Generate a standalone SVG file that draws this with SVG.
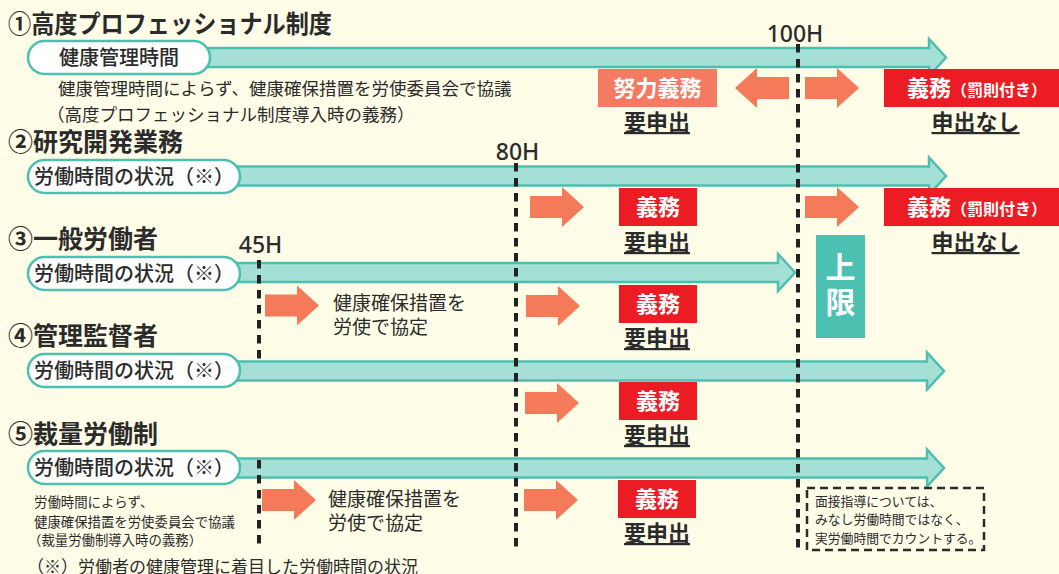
<svg xmlns="http://www.w3.org/2000/svg" xmlns:xlink="http://www.w3.org/1999/xlink" width="1059" height="574" viewBox="0 0 1059 574">
<style>
text{font-family:"Noto Sans CJK JP","Noto Sans",sans-serif;fill:#2b2b2b}
.title{font-size:25px;font-weight:700}
.pilltxt{font-size:20px;font-weight:500;text-anchor:middle}
.pill{fill:#ffffff;stroke:#4bbfb0;stroke-width:2.5}
.band{fill:#a4e0d6;stroke:#4bbfb0;stroke-width:2.5;stroke-linejoin:miter}
.oarr{fill:#f47a5a}
.red{fill:#ec1c24}
.salmon{fill:#f47a62}
.boxtxt{font-size:22px;font-weight:700;fill:#ffffff;text-anchor:middle}
.small{font-size:16px;font-weight:700;fill:#ffffff}
.req{font-size:22px;font-weight:700;text-anchor:middle;text-decoration:underline}
.body17{font-size:17.5px}
.body19{font-size:19px}
.body13{font-size:13.4px}
.note{font-size:12.8px}
.hlab{font-family:"Noto Sans","Liberation Sans",sans-serif;font-size:23px;font-weight:500;text-anchor:middle}
.dash{stroke:#222;stroke-width:4;stroke-dasharray:8.5 6.5;fill:none}
</style>
<defs>
<path id="arrowR" d="M0,-11 H32 V-20 L54,0 L32,20 V11 H0 Z"/>
</defs>
<rect x="0" y="0" width="1059" height="574" fill="#fffde8"/>

<g id="connectors">
  <path class="band" d="M150,48 H929 V39 L946,57.5 L929,76 V67 H150 Z"/>
  <path class="band" d="M150,166.5 H929 V157.5 L946,176 L929,194.5 V185.5 H150 Z"/>
  <path class="band" d="M150,263 H778 V254 L795,272.5 L778,291 V282 H150 Z"/>
  <path class="band" d="M150,361.5 H927 V352.5 L944,371 L927,389.5 V380.5 H150 Z"/>
  <path class="band" d="M150,458.5 H927 V449.5 L944,468 L927,486.5 V477.5 H150 Z"/>
  <use xlink:href="#arrowR" class="oarr" transform="translate(789,88) scale(-1,1)"/>
  <use xlink:href="#arrowR" class="oarr" transform="translate(805,88)"/>
  <use xlink:href="#arrowR" class="oarr" transform="translate(530,207)"/>
  <use xlink:href="#arrowR" class="oarr" transform="translate(805,207)"/>
  <use xlink:href="#arrowR" class="oarr" transform="translate(265,305.5)"/>
  <use xlink:href="#arrowR" class="oarr" transform="translate(526,306)"/>
  <use xlink:href="#arrowR" class="oarr" transform="translate(525,403)"/>
  <use xlink:href="#arrowR" class="oarr" transform="translate(262,500)"/>
  <use xlink:href="#arrowR" class="oarr" transform="translate(524,500)"/>
</g>

<g id="thresholds">
  <line class="dash" x1="798" y1="44" x2="798" y2="548"/>
  <line class="dash" x1="516" y1="163" x2="516" y2="548"/>
  <line class="dash" x1="259" y1="260" x2="259" y2="362"/>
  <line class="dash" x1="259" y1="460" x2="259" y2="548"/>
  <text class="hlab" x="795" y="42">100H</text>
  <text class="hlab" x="517.5" y="160">80H</text>
  <text class="hlab" x="260.5" y="253">45H</text>
</g>

<g id="row1">
  <text class="title" x="8" y="33" textLength="324" lengthAdjust="spacingAndGlyphs">①高度プロフェッショナル制度</text>
  <rect class="pill" x="28" y="41" width="182" height="33" rx="16.5"/>
  <text class="pilltxt" x="119" y="65">健康管理時間</text>
  <text class="body17" x="58" y="95">健康管理時間によらず、健康確保措置を労使委員会で協議</text>
  <text class="body17" x="47" y="121">（高度プロフェッショナル制度導入時の義務）</text>
</g>

<g id="row1-left">
  <rect class="salmon" x="598" y="69" width="119" height="38"/>
  <text class="boxtxt" x="657.5" y="96">努力義務</text>
  <text class="req" x="657" y="130">要申出</text>
</g>
<g id="row1-right">
  <rect class="red" x="884" y="69" width="175" height="38"/>
  <text class="boxtxt" x="907" y="96" style="text-anchor:start">義務<tspan class="small">（罰則付き）</tspan></text>
  <text class="req" x="975.5" y="130">申出なし</text>
</g>

<g id="row2">
  <text class="title" x="8" y="151">②研究開発業務</text>
  <rect class="pill" x="28" y="160" width="212" height="33" rx="16.5"/>
  <text class="pilltxt" x="134" y="184">労働時間の状況（※）</text>
</g>
<g id="row2-80">
  <rect class="red" x="619" y="188" width="78" height="38"/>
  <text class="boxtxt" x="658" y="215">義務</text>
  <text class="req" x="657" y="250">要申出</text>
</g>
<g id="row2-100">
  <rect class="red" x="884" y="188" width="175" height="38"/>
  <text class="boxtxt" x="907" y="215" style="text-anchor:start">義務<tspan class="small">（罰則付き）</tspan></text>
  <text class="req" x="975.5" y="250">申出なし</text>
</g>

<g id="limit">
  <rect x="816" y="235" width="49" height="103" fill="#4cc1b2"/>
  <text x="840.5" y="278" style="font-size:30px;font-weight:700;fill:#fff;text-anchor:middle">上</text>
  <text x="840.5" y="313" style="font-size:30px;font-weight:700;fill:#fff;text-anchor:middle">限</text>
</g>

<g id="row3">
  <text class="title" x="8" y="248">③一般労働者</text>
  <rect class="pill" x="28" y="257" width="212" height="33" rx="16.5"/>
  <text class="pilltxt" x="134" y="281">労働時間の状況（※）</text>
</g>
<g id="row3-45">
  <text class="body19" x="333" y="310">健康確保措置を</text>
  <text class="body19" x="333" y="334">労使で協定</text>
</g>
<g id="row3-80">
  <rect class="red" x="619" y="285" width="78" height="38"/>
  <text class="boxtxt" x="658" y="312">義務</text>
  <text class="req" x="657" y="346">要申出</text>
</g>

<g id="row4">
  <text class="title" x="8" y="345">④管理監督者</text>
  <rect class="pill" x="28" y="354" width="212" height="33" rx="16.5"/>
  <text class="pilltxt" x="134" y="378">労働時間の状況（※）</text>
</g>
<g id="row4-80">
  <rect class="red" x="619" y="382" width="78" height="38"/>
  <text class="boxtxt" x="658" y="409">義務</text>
  <text class="req" x="657" y="443">要申出</text>
</g>

<g id="row5">
  <text class="title" x="8" y="443">⑤裁量労働制</text>
  <rect class="pill" x="28" y="451" width="212" height="33" rx="16.5"/>
  <text class="pilltxt" x="134" y="475">労働時間の状況（※）</text>
  <text class="body13" x="34" y="507">労働時間によらず、</text>
  <text class="body13" x="34" y="527">健康確保措置を労使委員会で協議</text>
  <text class="body13" x="28" y="545">（裁量労働制導入時の義務）</text>
</g>
<g id="row5-45">
  <text class="body19" x="328" y="506">健康確保措置を</text>
  <text class="body19" x="328" y="530">労使で協定</text>
</g>
<g id="row5-80">
  <rect class="red" x="618" y="480" width="78" height="38"/>
  <text class="boxtxt" x="657" y="507">義務</text>
  <text class="req" x="657" y="541">要申出</text>
</g>

<g id="note">
  <rect x="807" y="488" width="177" height="62" fill="none" stroke="#2b2b2b" stroke-width="2.5" stroke-dasharray="8 5"/>
  <text class="note" x="815" y="506">面接指導については、</text>
  <text class="note" x="815" y="524">みなし労働時間ではなく、</text>
  <text class="note" x="815" y="543">実労働時間でカウントする。</text>
</g>

<g id="footnote">
  <text x="27" y="573" style="font-size:17px">（※）労働者の健康管理に着目した労働時間の状況</text>
</g>
</svg>
